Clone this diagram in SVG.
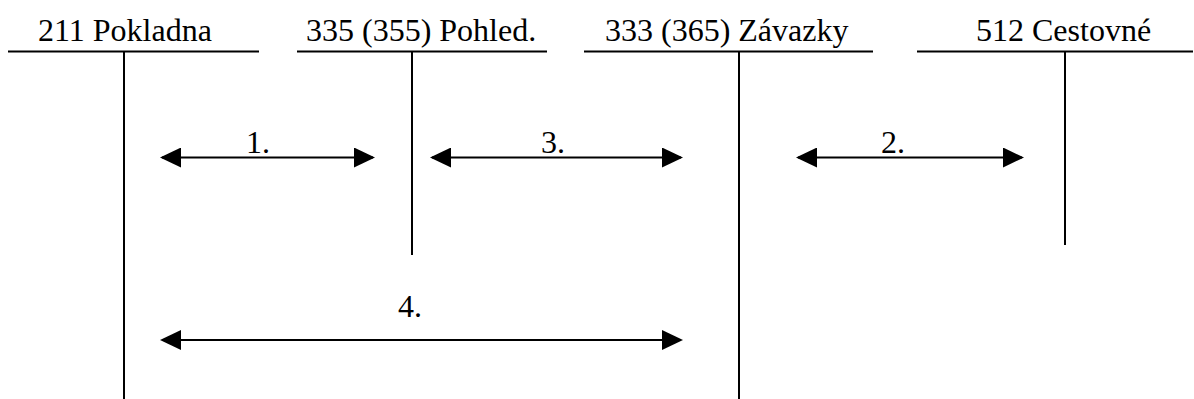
<svg xmlns="http://www.w3.org/2000/svg" width="1194" height="399" viewBox="0 0 1194 399">
  <style>
    .rule { stroke: #000; stroke-width: 2; fill: none; }
    .arrow { stroke: #000; stroke-width: 2; fill: none; marker-start: url(#head); marker-end: url(#head); }
    .title { font-size: 32px; fill: #000; }
  </style>
  <defs>
    <marker id="head" viewBox="0 0 21 20" refX="19" refY="10" markerWidth="21" markerHeight="20" markerUnits="userSpaceOnUse" orient="auto-start-reverse">
      <path d="M0,0 L21,10 L0,20 Z" fill="#000"/>
    </marker>
  </defs>
  <rect width="1194" height="399" fill="#fff"/>

  <g font-family="'Liberation Serif', 'DejaVu Serif', serif">
  <!-- T-account: 211 Pokladna -->
  <g id="acc-211">
    <text class="title" x="38" y="41">211 Pokladna</text>
    <line class="rule" x1="8" y1="51.5" x2="259" y2="51.5"/>
    <line class="rule" x1="124" y1="51.5" x2="124" y2="399"/>
  </g>

  <!-- T-account: 335 (355) Pohled. -->
  <g id="acc-335">
    <text class="title" x="306" y="41">335 (355) Pohled.</text>
    <line class="rule" x1="297" y1="51.5" x2="547" y2="51.5"/>
    <line class="rule" x1="412" y1="51.5" x2="412" y2="255"/>
  </g>

  <!-- T-account: 333 (365) Závazky -->
  <g id="acc-333">
    <text class="title" x="605" y="41">333 (365) Závazky</text>
    <line class="rule" x1="584" y1="51.5" x2="873" y2="51.5"/>
    <line class="rule" x1="739" y1="51.5" x2="739" y2="399"/>
  </g>

  <!-- T-account: 512 Cestovné -->
  <g id="acc-512">
    <text class="title" x="976" y="41">512 Cestovné</text>
    <line class="rule" x1="917" y1="51.5" x2="1193" y2="51.5"/>
    <line class="rule" x1="1065" y1="51.5" x2="1065" y2="245"/>
  </g>

  <!-- Postings between accounts -->
  <g id="connectors">
    <line class="arrow" x1="162" y1="157.5" x2="373" y2="157.5"/>
    <text class="title" x="246" y="153">1.</text>

    <line class="arrow" x1="432" y1="157.5" x2="681" y2="157.5"/>
    <text class="title" x="541" y="153">3.</text>

    <line class="arrow" x1="798" y1="157.5" x2="1022" y2="157.5"/>
    <text class="title" x="881" y="153">2.</text>

    <line class="arrow" x1="162" y1="340" x2="681" y2="340"/>
    <text class="title" x="398" y="317">4.</text>
  </g>
  </g>
</svg>
